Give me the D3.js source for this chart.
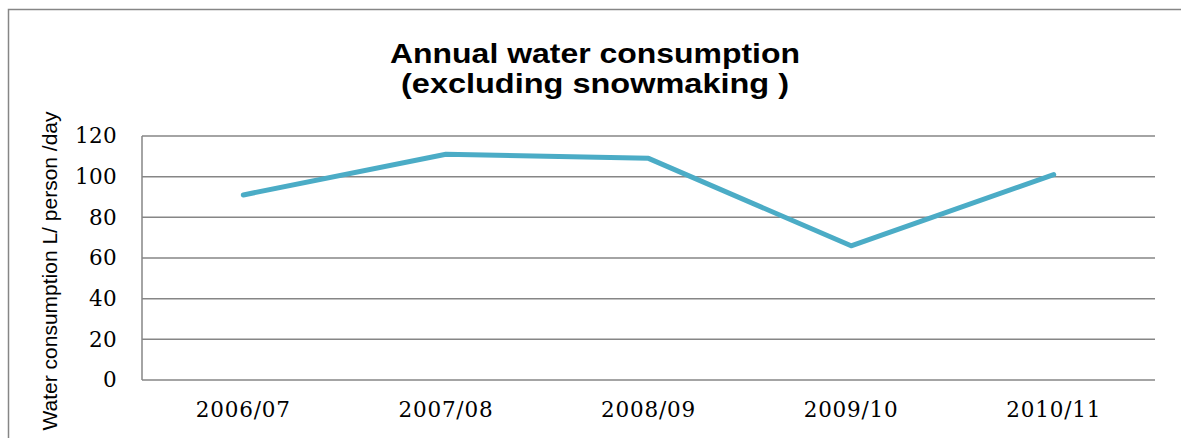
<!DOCTYPE html>
<html>
<head>
<meta charset="utf-8">
<script src="https://cdn.jsdelivr.net/npm/d3@7"></script>
<style>
  html, body { margin: 0; padding: 0; background: #fff; }
  svg { display: block; }
</style>
</head>
<body>
<svg id="chart" width="1181" height="438"></svg>
<script>
// Annual water consumption per season, L/person/day
const seasons = ["2006/07", "2007/08", "2008/09", "2009/10", "2010/11"];
const consumption = [91, 111, 109, 66, 101];
const yTicks = [0, 20, 40, 60, 80, 100, 120];
const titleLines = ["Annual water consumption", "(excluding snowmaking )"];
const yTitle = "Water consumption L/ person /day";

const svg = d3.select("#chart");
const plot = { left: 142, right: 1155, top: 136, bottom: 380 };

// Outer chart frame (top and left edges visible)
svg.append("path")
  .attr("d", "M8.5,438 L8.5,9.5 L1181,9.5")
  .attr("fill", "none")
  .attr("stroke", "#868686")
  .attr("stroke-width", 1.5);

const x = d3.scaleBand().domain(seasons).range([plot.left, plot.right]);
const y = d3.scaleLinear().domain([0, 120]).range([plot.bottom, plot.top]);

// Horizontal gridlines
svg.append("g")
  .selectAll("line")
  .data(yTicks)
  .join("line")
  .attr("x1", plot.left)
  .attr("x2", plot.right)
  .attr("y1", d => y(d))
  .attr("y2", d => y(d))
  .attr("stroke", "#868686")
  .attr("stroke-width", 1.5);

// Vertical axis line
svg.append("line")
  .attr("x1", plot.left).attr("x2", plot.left)
  .attr("y1", plot.top).attr("y2", plot.bottom)
  .attr("stroke", "#868686")
  .attr("stroke-width", 1.5);

// Y axis labels
const yAxis = d3.axisLeft(y).tickValues(yTicks).tickSize(0).tickPadding(25);
const gy = svg.append("g").attr("transform", `translate(${plot.left},0)`).call(yAxis);
gy.select(".domain").remove();
gy.selectAll("text")
  .attr("font-family", "'DejaVu Serif', serif")
  .attr("font-size", 21.5)
  .attr("letter-spacing", 0.3)
  .attr("fill", "#000");

// X axis labels
const xAxis = d3.axisBottom(x).tickSize(0).tickPadding(22);
const gx = svg.append("g").attr("transform", `translate(0,${plot.bottom})`).call(xAxis);
gx.select(".domain").remove();
gx.selectAll("text")
  .attr("font-family", "'DejaVu Serif', serif")
  .attr("font-size", 21.5)
  .attr("letter-spacing", 0.8)
  .attr("fill", "#000");

// Data line
const line = d3.line()
  .x((d, i) => x(seasons[i]) + x.bandwidth() / 2)
  .y(d => y(d));
svg.append("path")
  .datum(consumption)
  .attr("d", line)
  .attr("fill", "none")
  .attr("stroke", "#4BACC6")
  .attr("stroke-width", 5)
  .attr("stroke-linecap", "round")
  .attr("stroke-linejoin", "round");

// Title, two centred lines
const titleWidths = [410, 388];
svg.append("text")
  .attr("text-anchor", "middle")
  .attr("font-family", "'Liberation Sans', Arial, sans-serif")
  .attr("font-weight", "bold")
  .attr("font-size", 28)
  .selectAll("tspan")
  .data(titleLines)
  .join("tspan")
  .attr("x", 595)
  .attr("y", (d, i) => 63 + i * 30)
  .attr("textLength", (d, i) => titleWidths[i])
  .attr("lengthAdjust", "spacingAndGlyphs")
  .text(d => d);

// Y axis title
svg.append("text")
  .attr("transform", "translate(57,271) rotate(-90)")
  .attr("text-anchor", "middle")
  .attr("font-family", "'Liberation Sans', Arial, sans-serif")
  .attr("font-size", 21)
  .attr("fill", "#000")
  .text(yTitle);
</script>
</body>
</html>
